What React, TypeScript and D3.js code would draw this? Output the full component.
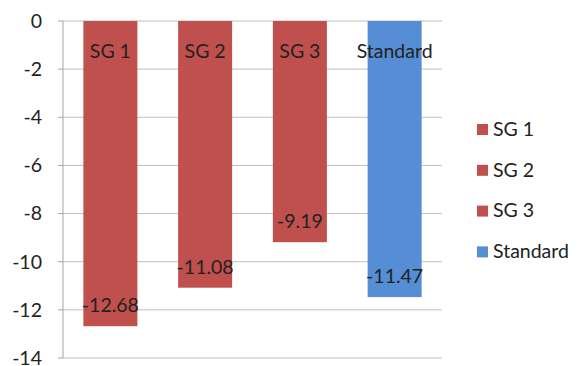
import React from 'react';
import * as d3 from 'd3';

const categories = ['SG 1', 'SG 2', 'SG 3', 'Standard'];
const values = [-12.68, -11.08, -9.19, -11.47];
const yTicks = [0, -2, -4, -6, -8, -10, -12, -14];

const colors = ['#C0504D', '#C0504D', '#C0504D', '#558ED5'];

const width = 581;
const height = 366;
const margin = { top: 21, right: 139, bottom: 8, left: 63 };
const font = 'Lato, "Open Sans", sans-serif';
const fontSize = 19.5;

export default function App() {
  const x = d3
    .scaleBand()
    .domain(categories)
    .range([margin.left, width - margin.right])
    .paddingInner(0.43)
    .paddingOuter(0.215);

  const y = d3
    .scaleLinear()
    .domain([0, -14])
    .range([margin.top, height - margin.bottom]);

  const x0 = margin.left;
  const x1 = width - margin.right;

  return (
    <svg
      width={width}
      height={height}
      style={{ position: 'absolute', left: 0, top: 0, background: '#fff' }}
      fontFamily={font}
    >
      {yTicks.map((t) => (
        <g key={t}>
          <line x1={x0} x2={x1} y1={y(t)} y2={y(t)} stroke="#bfbfbf" strokeWidth={1} />
          <line x1={x0 - 5} x2={x0} y1={y(t)} y2={y(t)} stroke="#a6a6a6" strokeWidth={1} />
          <text
            x={42}
            y={y(t)}
            dy="0.35em"
            textAnchor="end"
            fontSize={fontSize}
            fill="#222"
          >
            {t}
          </text>
        </g>
      ))}
      <line x1={x0} x2={x0} y1={y(0)} y2={y(-14)} stroke="#a6a6a6" strokeWidth={1} />

      {categories.map((c, i) => (
        <g key={c}>
          <rect
            x={x(c)}
            y={y(0)}
            width={x.bandwidth()}
            height={y(values[i]) - y(0)}
            fill={colors[i]}
          />
          <text
            x={x(c)! + x.bandwidth() / 2}
            y={y(0) + 30}
            dy="0.35em"
            textAnchor="middle"
            fontSize={fontSize}
            fill="#222"
          >
            {c}
          </text>
          <text
            x={x(c)! + x.bandwidth() / 2}
            y={y(values[i]) - 21}
            dy="0.35em"
            textAnchor="middle"
            fontSize={fontSize}
            fill="#222"
          >
            {values[i]}
          </text>
        </g>
      ))}

      {categories.map((c, i) => (
        <g key={'lg' + c} transform={`translate(477, ${129 + i * 40.8})`}>
          <rect x={0} y={-5} width={11} height={11} fill={colors[i]} />
          <text x={16} y={0} dy="0.35em" fontSize={fontSize} fill="#222">
            {c}
          </text>
        </g>
      ))}
    </svg>
  );
}
